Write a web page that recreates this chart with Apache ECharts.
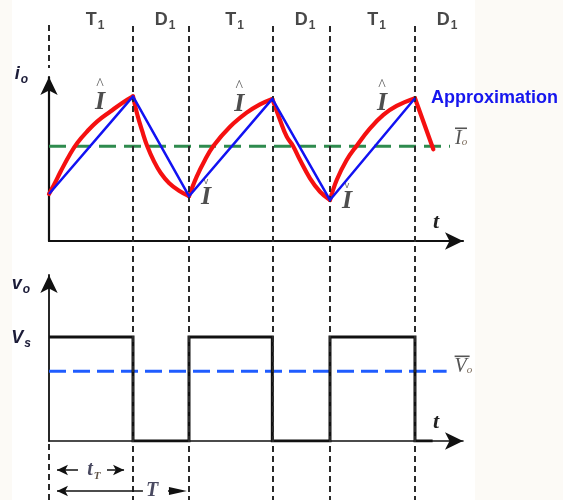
<!DOCTYPE html>
<html>
<head>
<meta charset="utf-8">
<script src="https://cdn.jsdelivr.net/npm/echarts@6/dist/echarts.min.js"></script>
<style>
  html, body { margin: 0; padding: 0; background: #fcfaf6; }
  #chart { width: 563px; height: 500px; }
</style>
</head>
<body>
<div id="chart"></div>
<script>
// Step-down chopper waveforms, time in units of one switching period.

// switching instants and conduction phases
const switchTimes = [0, 0.6, 1.0, 1.595, 2.007, 2.614];
const phaseNames = ['T1', 'D1', 'T1', 'D1', 'T1', 'D1'];
const timeEnd = 2.957;

// load current i_o (exponential rise while T1 conducts, decay while D1 conducts)
const currentRise1 = [[0, 2.94], [0.036, 3.52], [0.084, 4.36], [0.155, 5.5], [0.202, 6.13], [0.274, 6.86], [0.345, 7.48], [0.441, 8.11], [0.523, 8.63], [0.6, 9.04]];
const currentFall1 = [[0.6, 9.04], [0.631, 7.89], [0.666, 6.86], [0.702, 5.92], [0.75, 4.98], [0.798, 4.25], [0.857, 3.63], [0.929, 3.14], [1.0, 2.8]];
const currentRise2 = [[1.0, 2.8], [1.055, 4.02], [1.114, 5.06], [1.174, 5.94], [1.293, 7.14], [1.412, 8.02], [1.507, 8.54], [1.595, 8.88]];
const currentFall2 = [[1.595, 8.88], [1.65, 7.56], [1.698, 6.52], [1.743, 5.94], [1.793, 5.06], [1.864, 3.92], [1.936, 3.08], [2.007, 2.56]];
const currentRise3 = [[2.007, 2.56], [2.055, 3.81], [2.126, 5.06], [2.198, 5.96], [2.293, 7.04], [2.388, 7.88], [2.483, 8.44], [2.614, 8.92]];
const currentFall3 = [[2.614, 8.92], [2.745, 5.73]];

// straight-line approximation of the current
const currentApprox = [[0, 2.94], [0.6, 9.04], [1.0, 2.8], [1.595, 8.88], [2.007, 2.56], [2.614, 8.92]];
const currentMean = 5.92;
const currentMeanEnd = 2.864;

// output voltage v_o (per unit of Vs)
const voltageWave = [[0, 1], [0.6, 1], [0.6, 0], [1.0, 0], [1.0, 1], [1.595, 1], [1.595, 0], [2.007, 0], [2.007, 1], [2.614, 1], [2.614, 0], [2.74, 0]];
const supplyVoltage = 1;
const voltageMean = 0.67;
const voltageMeanEnd = 2.84;

const LEFT = 49, RIGHT = 100;
const INK = '#111';
const LABEL_INK = '#1c1c38';
const SERIF = '"Liberation Serif", "DejaVu Serif", serif';
const SANS = '"Liberation Sans", Arial, sans-serif';

const period = switchTimes[2] - switchTimes[0];
const phaseMids = switchTimes.map((t, k) => {
  const next = k + 1 < switchTimes.length ? switchTimes[k + 1] : t + (period - (switchTimes[1] - switchTimes[0]));
  return (t + next) / 2;
});

const peaks = currentApprox.filter((_, k) => k % 2 === 1);
const troughs = currentApprox.filter((_, k) => k % 2 === 0 && k > 0);

const chart = echarts.init(document.getElementById('chart'), null, { renderer: 'canvas' });

const arrowAxis = (w) => ({
  show: true, onZero: true,
  symbol: ['none', 'arrow'], symbolSize: [13, 18],
  lineStyle: { color: INK, width: w }
});

const tName = {
  name: 't', nameLocation: 'end', nameGap: -30,
  nameTextStyle: {
    fontFamily: SERIF, fontStyle: 'italic', fontWeight: 'bold', fontSize: 22,
    color: '#222', align: 'left', verticalAlign: 'bottom', lineHeight: 22, padding: [0, 0, 8, 0]
  }
};

const subRich = (size, subSize, family, style) => ({
  m: { fontFamily: family, fontStyle: style, fontWeight: 'bold', fontSize: size, color: LABEL_INK, lineHeight: size + 2, verticalAlign: 'bottom' },
  s: { fontFamily: family, fontStyle: style, fontWeight: 'bold', fontSize: subSize, color: LABEL_INK, lineHeight: subSize + 1, verticalAlign: 'bottom', padding: [0, 0, -3, 1] }
});

// overbar drawn as a thin filled box above the symbol
const barRich = (barWidth) => ({
  b: { width: barWidth, height: 1.6, lineHeight: 3, backgroundColor: '#555', padding: [0, 0, 0, 3] },
  i: { fontFamily: SERIF, fontStyle: 'italic', fontSize: 20, color: '#555', lineHeight: 18 },
  s: { fontFamily: SERIF, fontStyle: 'italic', fontSize: 11, color: '#7a6a5a', lineHeight: 11, verticalAlign: 'bottom' }
});

const redSegments = [currentRise1, currentFall1, currentRise2, currentFall2, currentRise3, currentFall3].map(seg => ({
  type: 'line', xAxisIndex: 0, yAxisIndex: 0, data: seg,
  smooth: 0.4, symbol: 'none', z: 4, silent: true,
  lineStyle: { color: '#f51010', width: 4.2, cap: 'round', join: 'round' }
}));

const option = {
  animation: false,
  backgroundColor: '#fcfaf6',
  graphic: [{
    type: 'rect', z: -10, silent: true,
    shape: { x: 12, y: 0, width: 463, height: 500 },
    style: { fill: '#ffffff' }
  }],
  grid: [
    { left: LEFT, right: RIGHT, top: 77, bottom: 259 },
    { left: LEFT, right: RIGHT, top: 275, bottom: 59 },
    { left: LEFT, right: RIGHT, top: 0, bottom: 0 }
  ],
  xAxis: [
    Object.assign({ type: 'value', gridIndex: 0, min: 0, max: timeEnd, axisLine: arrowAxis(2.2),
      axisTick: { show: false }, axisLabel: { show: false }, splitLine: { show: false } }, tName),
    Object.assign({ type: 'value', gridIndex: 1, min: 0, max: timeEnd, axisLine: arrowAxis(1.6),
      axisTick: { show: false }, axisLabel: { show: false }, splitLine: { show: false } }, tName),
    { type: 'value', gridIndex: 2, min: 0, max: timeEnd, show: false }
  ],
  yAxis: [
    {
      type: 'value', gridIndex: 0, min: 0, max: 10.25,
      axisLine: arrowAxis(2.2), axisTick: { show: false }, axisLabel: { show: false }, splitLine: { show: false },
      name: '{m|i}{s|o}', nameLocation: 'end', nameGap: 4,
      nameTextStyle: { align: 'right', verticalAlign: 'middle', padding: [0, 21, 0, 0], rich: subRich(18, 12, SANS, 'italic') }
    },
    {
      type: 'value', gridIndex: 1, min: 0, max: 1.596, interval: 0.5,
      axisLine: arrowAxis(1.8), axisTick: { show: false }, splitLine: { show: false },
      axisLabel: {
        show: true, margin: 18, showMaxLabel: false,
        formatter: v => (Math.abs(v - supplyVoltage) < 1e-6 ? '{m|V}{s|s}' : ''),
        rich: subRich(18, 12, SANS, 'italic')
      },
      name: '{m|v}{s|o}', nameLocation: 'end', nameGap: -8,
      nameTextStyle: { align: 'right', verticalAlign: 'middle', padding: [0, 19, 0, 0], rich: subRich(18, 12, SANS, 'italic') }
    },
    { type: 'value', gridIndex: 2, min: 0, max: 500, inverse: true, show: false }
  ],
  series: [
    // phase labels, switching-instant guides and period dimensions
    {
      type: 'scatter', xAxisIndex: 2, yAxisIndex: 2, z: 1, silent: true,
      symbolSize: 0,
      data: phaseNames.map((n, k) => ({ value: [phaseMids[k], 19], name: n })),
      label: {
        show: true, position: 'inside', offset: [4, 0],
        formatter: p => `{m|${p.name[0]}}{s|${p.name.slice(1)}}`,
        rich: {
          m: { fontFamily: SANS, fontWeight: 'bold', fontSize: 18, color: '#1a1a1a', lineHeight: 20, verticalAlign: 'bottom' },
          s: { fontFamily: SANS, fontWeight: 'bold', fontSize: 12, color: '#1a1a1a', lineHeight: 13, verticalAlign: 'bottom', padding: [0, 0, -3, 1] }
        }
      },
      markLine: {
        silent: true, symbol: ['none', 'none'],
        label: { show: false },
        lineStyle: { color: '#2a2a2a', width: 2, type: [6, 4] },
        data: [
          [{ coord: [switchTimes[0], 25] }, { coord: [switchTimes[0], 68] }],
          [{ coord: [switchTimes[0], 444] }, { coord: [switchTimes[0], 500] }],
          ...switchTimes.slice(1).map(t => [{ coord: [t, 26] }, { coord: [t, 500] }]),
          [{ coord: [0.057, 470], symbol: 'arrow', symbolSize: [8, 11], lineStyle: { type: 'solid', width: 1.5, color: INK } },
           { coord: [0.207, 470], lineStyle: { type: 'solid', width: 1.5, color: INK } }],
          [{ coord: [0.414, 470], lineStyle: { type: 'solid', width: 1.5, color: INK } },
           { coord: [0.536, 470], symbol: 'arrow', symbolSize: [8, 11], lineStyle: { type: 'solid', width: 1.5, color: INK } }],
          [{ coord: [0.057, 491], symbol: 'arrow', symbolSize: [8, 11], lineStyle: { type: 'solid', width: 1.5, color: INK } },
           { coord: [0.671, 491], lineStyle: { type: 'solid', width: 1.5, color: INK } }],
          [{ coord: [0.85, 491], lineStyle: { type: 'solid', width: 1.5, color: INK } },
           { coord: [0.921, 491], symbol: 'triangle', symbolSize: [8, 18], lineStyle: { type: 'solid', width: 1.5, color: INK } }]
        ]
      }
    },
    {
      type: 'scatter', xAxisIndex: 2, yAxisIndex: 2, z: 6, silent: true, symbolSize: 0,
      data: [{ value: [0.321, 470], name: 'tT' }, { value: [0.736, 491], name: 'T' }],
      label: {
        show: true, position: 'inside',
        formatter: p => (p.name === 'tT' ? '{m|t}{s|T}' : '{m|T}'),
        rich: {
          m: { fontFamily: SERIF, fontStyle: 'italic', fontWeight: 'bold', fontSize: 20, color: LABEL_INK, lineHeight: 20, verticalAlign: 'bottom' },
          s: { fontFamily: SERIF, fontStyle: 'italic', fontWeight: 'bold', fontSize: 11, color: '#3a2a1a', lineHeight: 11, verticalAlign: 'bottom', padding: [0, 0, -2, 1] }
        }
      }
    },
    // mean load current
    {
      type: 'line', xAxisIndex: 0, yAxisIndex: 0, z: 2, silent: true, symbol: 'none',
      data: [[0, currentMean], [currentMeanEnd, currentMean]],
      lineStyle: { color: '#2e8b4e', width: 3, type: [17, 8] },
      endLabel: {
        show: true, distance: 5, offset: [0, -9],
        formatter: () => '{b| }\n{i|I}{s|o}',
        rich: barRich(9)
      }
    },
    ...redSegments,
    // linear approximation
    {
      type: 'line', xAxisIndex: 0, yAxisIndex: 0, z: 5, silent: true, symbol: 'none',
      data: currentApprox,
      lineStyle: { color: '#1212f2', width: 2.5, join: 'round' },
      endLabel: {
        show: true, distance: 16, formatter: () => 'Approximation',
        fontFamily: SANS, fontWeight: 'bold', fontSize: 18, color: '#1616ee'
      }
    },
    // peak / valley markers
    {
      type: 'scatter', xAxisIndex: 0, yAxisIndex: 0, z: 6, silent: true, symbolSize: 0,
      data: peaks,
      label: {
        show: true, position: 'inside', offset: [-33, 0],
        formatter: () => '{h|^}\n{i|I}',
        rich: {
          h: { fontFamily: SERIF, fontSize: 16, color: '#333', lineHeight: 11, align: 'center' },
          i: { fontFamily: SERIF, fontStyle: 'italic', fontWeight: 'bold', fontSize: 26, color: '#222', lineHeight: 24, align: 'center' }
        }
      }
    },
    {
      type: 'scatter', xAxisIndex: 0, yAxisIndex: 0, z: 6, silent: true, symbolSize: 0,
      data: troughs,
      label: {
        show: true, position: 'inside', offset: [17, -3],
        formatter: () => '{h|v}\n{i|I}',
        rich: {
          h: { fontFamily: SANS, fontSize: 9, color: '#444', lineHeight: 9, align: 'center' },
          i: { fontFamily: SERIF, fontStyle: 'italic', fontWeight: 'bold', fontSize: 26, color: '#222', lineHeight: 24, align: 'center' }
        }
      }
    },
    // output voltage
    {
      type: 'line', xAxisIndex: 1, yAxisIndex: 1, z: 4, silent: true, symbol: 'none',
      data: voltageWave,
      lineStyle: { color: INK, width: 3, join: 'miter' }
    },
    {
      type: 'line', xAxisIndex: 1, yAxisIndex: 1, z: 3, silent: true, symbol: 'none',
      data: [[0, voltageMean], [voltageMeanEnd, voltageMean]],
      lineStyle: { color: '#1f5cff', width: 3, type: [17, 7] },
      endLabel: {
        show: true, distance: 8, offset: [0, -6],
        formatter: () => '{b| }\n{i|V}{s|o}',
        rich: barRich(12)
      }
    }
  ]
};

chart.setOption(option);
</script>
</body>
</html>
